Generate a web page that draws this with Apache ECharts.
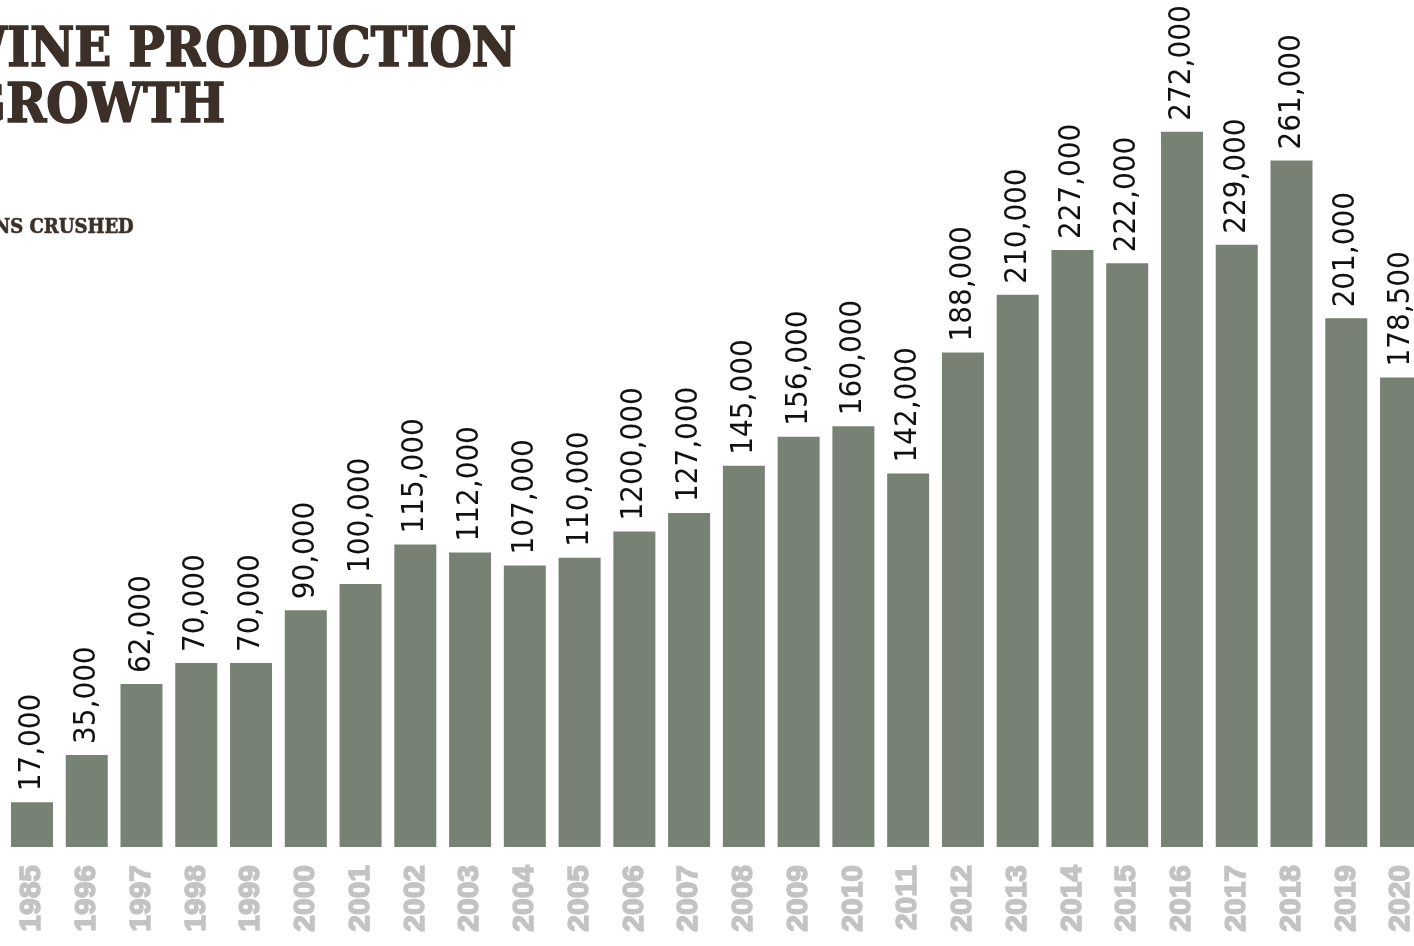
<!DOCTYPE html>
<html>
<head>
<meta charset="utf-8">
<script src="https://cdn.jsdelivr.net/npm/echarts@6/dist/echarts.min.js"></script>
<style>
html,body{margin:0;padding:0;background:#fff;overflow:hidden;width:1414px;height:946px;}
#chart{width:1430px;height:946px;}
</style>
</head>
<body>
<div id="chart"></div>
<script>
const years = ['1985','1996','1997','1998','1999','2000','2001','2002','2003','2004','2005','2006','2007','2008','2009','2010','2011','2012','2013','2014','2015','2016','2017','2018','2019','2020'];
const tonsCrushed = [17000,35000,62000,70000,70000,90000,100000,115000,112000,107000,110000,120000,127000,145000,156000,160000,142000,188000,210000,227000,222000,272000,229000,261000,201000,178500];
const valueLabels = ['17,000','35,000','62,000','70,000','70,000','90,000','100,000','115,000','112,000','107,000','110,000','1200,000','127,000','145,000','156,000','160,000','142,000','188,000','210,000','227,000','222,000','272,000','229,000','261,000','201,000','178,500'];
const titleLines = ['WINE PRODUCTION','GROWTH'];
const subtitle = 'TONS CRUSHED';

const chart = echarts.init(document.getElementById('chart'), null, {renderer:'canvas'});
const titleFont = '"DejaVu Serif Condensed","DejaVu Serif", serif';
const W = 1430;
const brown = '#3b2f28';
chart.setOption({
  backgroundColor:'#ffffff',
  animation:false,
  graphic:[
    {type:'text', right:W-517, top:24, style:{text:titleLines[0], font:'bold 54px '+titleFont, fill:brown, stroke:brown, lineWidth:1.5, textAlign:'right'}},
    {type:'text', right:W-226, top:80, style:{text:titleLines[1], font:'bold 54px '+titleFont, fill:brown, stroke:brown, lineWidth:1.5, textAlign:'right'}},
    {type:'text', right:W-134, top:217, style:{text:subtitle, font:'bold 20px '+titleFont, fill:brown, stroke:brown, lineWidth:0.6, textAlign:'right'}}
  ],
  grid:{left:4.6, top:58, width:1423.8, height:789, containLabel:false},
  xAxis:{
    type:'category', data:years,
    axisLine:{show:false}, axisTick:{show:false},
    axisLabel:{rotate:90, margin:18, color:'#c3c3c5', fontSize:30, fontWeight:'bold', fontFamily:'"Liberation Sans",Arial,sans-serif', interval:0,
      textBorderColor:'#c3c3c5', textBorderWidth:1.5}
  },
  yAxis:{type:'value', min:0, max:300000, show:false, splitLine:{show:false}},
  series:[{
    type:'bar', data:tonsCrushed, barWidth:42,
    itemStyle:{color:'#778274'},
    label:{show:true, position:'top', rotate:90, distance:11, align:'left', verticalAlign:'middle',
      color:'#111111', fontSize:31, fontFamily:'"DejaVu Sans Condensed","DejaVu Sans",sans-serif',
      formatter:p=>valueLabels[p.dataIndex]}
  }]
});
</script>
</body>
</html>
